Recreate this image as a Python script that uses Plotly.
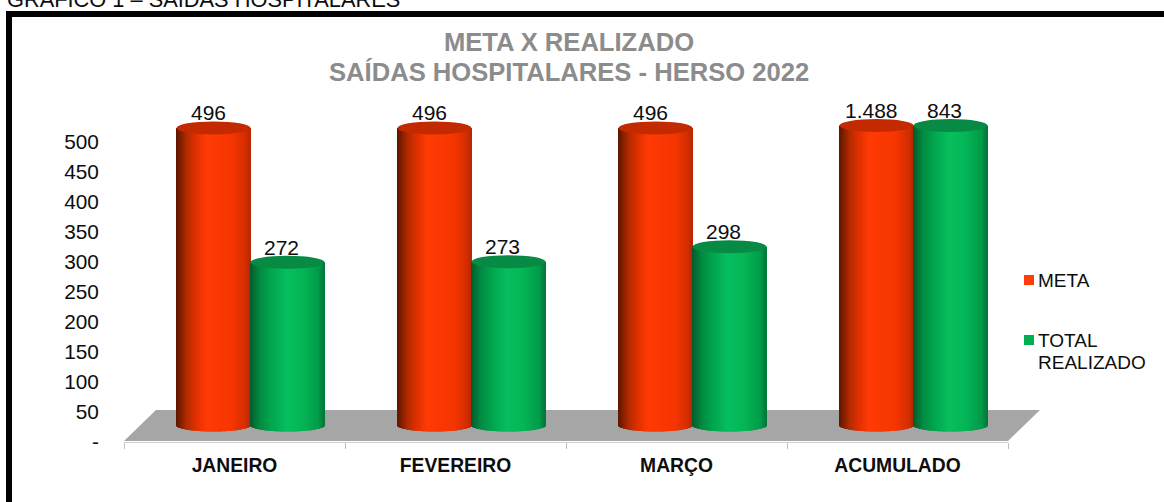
import plotly.graph_objects as go

# ---- data ----
categories = ["JANEIRO", "FEVEREIRO", "MARÇO", "ACUMULADO"]
meta = [496, 496, 496, 1488]
realizado = [272, 273, 298, 843]
y_ticks = [0, 50, 100, 150, 200, 250, 300, 350, 400, 450, 500]
y_tick_labels = ["-", "50", "100", "150", "200", "250", "300", "350", "400", "450", "500"]
series_names = ["META", "TOTAL REALIZADO"]
title_lines = ["META X REALIZADO", "SAÍDAS HOSPITALARES - HERSO 2022"]
caption = "GRÁFICO 1 – SAÍDAS HOSPITALARES"

# ---- layout geometry (pixels) ----
W, H = 1164, 502
FX0, FX1, FY0, FY100 = 124, 1008, 441, 141        # front plane of the 3-D box
AXIS_DY = 1                                       # the drawn axes sit 1 px under the floor edge
DX, DY = 32, 31                                   # floor depth
CX, CY0 = 16, 425.5                               # cylinder plane: x shift, y of value 0
AX_MAX = 500
PX_PER_UNIT = 0.6
CYL_W = 74
CYL_RY_TOP = 6.5
CYL_RY_BOT = 6.0
EXTRA = 25                                        # axis head/foot room for the ellipses
FONT = "Liberation Sans"
INK = "#0d0d0d"

RED_STOPS = [(0, "#5c1500"), (.14, "#b02a00"), (.27, "#e03000"), (.41, "#ff3a05"),
             (.77, "#f53500"), (.95, "#d02c00"), (1, "#b52700")]
GREEN_STOPS = [(0, "#045a2d"), (.13, "#028a41"), (.27, "#00a34c"), (.49, "#06bf5e"),
               (.71, "#04b556"), (.93, "#009a48"), (1, "#03753a")]
RED_CAP, GREEN_CAP = "#c42a00", "#068a44"
RED_KEY, GREEN_KEY = "#ff3c0a", "#00b050"


def hex2rgb(h):
    return tuple(int(h[i:i + 2], 16) for i in (1, 3, 5))


def ramp(stops, t):
    for (a, ca), (b, cb) in zip(stops, stops[1:]):
        if t <= b:
            f = (t - a) / (b - a)
            ra, rb = hex2rgb(ca), hex2rgb(cb)
            return "rgb(%d,%d,%d)" % tuple(round(p + (q - p) * f) for p, q in zip(ra, rb))
    return stops[-1][1]


def px(x):
    return x / W


def py(y):
    return 1 - y / H


unit_w = (FX1 - FX0) / len(categories)            # pixels per category
strip = 1 / unit_w
foot = EXTRA * PX_PER_UNIT
y2_top_px = CY0 - AX_MAX * PX_PER_UNIT - foot
y2_bot_px = CY0 + foot


def cylinder_trace(values, side, stops, name):
    xs, ys, bases, widths, offsets, colors = [], [], [], [], [], []
    n = CYL_W
    for k, v in enumerate(values):
        top = min(v, AX_MAX)
        for i in range(n):
            u = (i + .5) / n
            chord = max(0.0, 1 - (2 * u - 1) ** 2) ** .5
            base = -CYL_RY_BOT * chord / PX_PER_UNIT
            xs.append(k + .5)
            ys.append(top - base)
            bases.append(base)
            widths.append(strip * 1.25)
            offsets.append((i if side > 0 else i - n) * strip)
            colors.append(ramp(stops, u))
    return go.Bar(x=xs, y=ys, base=bases, width=widths, offset=offsets, name=name,
                  marker=dict(color=colors, line=dict(width=0)),
                  xaxis="x2", yaxis="y2", showlegend=False, hoverinfo="skip")


fig = go.Figure()
# front-plane axes need a trace of their own to be drawn
fig.add_trace(go.Scatter(x=[None], y=[None], xaxis="x", yaxis="y", showlegend=False, hoverinfo="skip"))
fig.add_trace(cylinder_trace(meta, -1, RED_STOPS, series_names[0]))
fig.add_trace(cylinder_trace(realizado, 1, GREEN_STOPS, series_names[1]))

shapes = [
    # frame
    dict(type="rect", xref="paper", yref="paper", x0=px(9), x1=px(W + 20), y0=py(14), y1=py(H + 20),
         line=dict(color="black", width=6), fillcolor="rgba(0,0,0,0)", layer="below"),
    # floor
    dict(type="path", xref="paper", yref="paper", layer="below", fillcolor="#a6a6a6",
         line=dict(width=0),
         path="M %f %f L %f %f L %f %f L %f %f Z" % (
             px(FX0), py(FY0), px(FX1), py(FY0), px(FX1 + DX), py(FY0 - DY), px(FX0 + DX), py(FY0 - DY))),
    # legend keys
    dict(type="rect", xref="paper", yref="paper", x0=px(1024), x1=px(1034), y0=py(275), y1=py(285),
         fillcolor=RED_KEY, line=dict(width=0)),
    dict(type="rect", xref="paper", yref="paper", x0=px(1024), x1=px(1034), y0=py(335), y1=py(345),
         fillcolor=GREEN_KEY, line=dict(width=0)),
]

annotations = []
rx = (CYL_W / 2) / unit_w
ry = CYL_RY_TOP / PX_PER_UNIT
for values, side, cap, label_dx in ((meta, -1, RED_CAP, -5.5), (realizado, 1, GREEN_CAP, -6.5)):
    for k, v in enumerate(values):
        top = min(v, AX_MAX)
        cx = k + .5 + side * rx
        shapes.append(dict(type="circle", xref="x2", yref="y2", x0=cx - rx, x1=cx + rx,
                           y0=top - ry, y1=top + ry, fillcolor=cap, line=dict(width=0), layer="above"))
        annotations.append(dict(xref="x2", yref="y2", x=cx, y=top,
                                text=f"{v:,}".replace(",", "."), showarrow=False, xshift=label_dx,
                                yshift=15, yanchor="middle",
                                font=dict(family=FONT, size=21, color=INK)))


def paper_text(x, y, text, xanchor="left", **font):
    annotations.append(dict(xref="paper", yref="paper", x=px(x), y=py(y), xanchor=xanchor,
                            yanchor="middle", text=text, showarrow=False,
                            font=dict(family=FONT, **font)))


paper_text(5, -1, caption, size=21.8, color=INK)
paper_text(569, 72, f"<b>{title_lines[1]}</b>", xanchor="center", size=25.6, color="#8c8c8c")
first, second = series_names[1].split(" ")
paper_text(1036, 280.5, series_names[0], size=19, color=INK)
paper_text(1036, 340, first, size=19, color=INK)
paper_text(1036, 362, second, size=19, color=INK)

fig.update_layout(
    width=W, height=H, autosize=False,
    margin=dict(l=0, r=0, t=0, b=0, autoexpand=False),
    paper_bgcolor="white", plot_bgcolor="rgba(0,0,0,0)",
    barmode="overlay",
    title=dict(text=title_lines[0], x=569 / W, xanchor="center", y=py(42), yanchor="middle",
               font=dict(family=FONT, size=25.6, color="#8c8c8c", weight="bold")),
    xaxis=dict(domain=[px(FX0), px(FX1)], range=[0, len(categories)],
               tickmode="array", tickvals=[k + .5 for k in range(len(categories))],
               ticktext=[f"<b>{c}</b>" for c in categories],
               ticks="outside", ticklen=6, tickcolor="rgba(0,0,0,0)",
               tickfont=dict(family=FONT, size=19.3, color=INK),
               showgrid=False, zeroline=False, showline=True, linecolor="#cfcfcf", linewidth=1,
               minor=dict(ticks="outside", tickmode="array", tickvals=list(range(len(categories) + 1)),
                          ticklen=6, tickcolor="#bfbfbf", showgrid=False),
               anchor="y"),
    yaxis=dict(domain=[py(FY0 + AXIS_DY), py(FY100 + AXIS_DY)], range=[0, AX_MAX],
               tickmode="array", tickvals=y_ticks, ticktext=y_tick_labels,
               ticks="outside", ticklen=20, tickcolor="rgba(0,0,0,0)",
               tickfont=dict(family=FONT, size=20.8, color=INK),
               showgrid=False, zeroline=False, showline=False, anchor="x"),
    xaxis2=dict(domain=[px(FX0 + CX), px(FX1 + CX)], range=[0, len(categories)], visible=False,
                anchor="y2"),
    yaxis2=dict(domain=[py(y2_bot_px), py(y2_top_px)], range=[-EXTRA, AX_MAX + EXTRA], visible=False,
                anchor="x2"),
    shapes=shapes, annotations=annotations, showlegend=False,
)

fig.write_html("out.html", config={"displayModeBar": False},
               post_script="document.body.style.margin='0';document.body.style.overflow='hidden';")
